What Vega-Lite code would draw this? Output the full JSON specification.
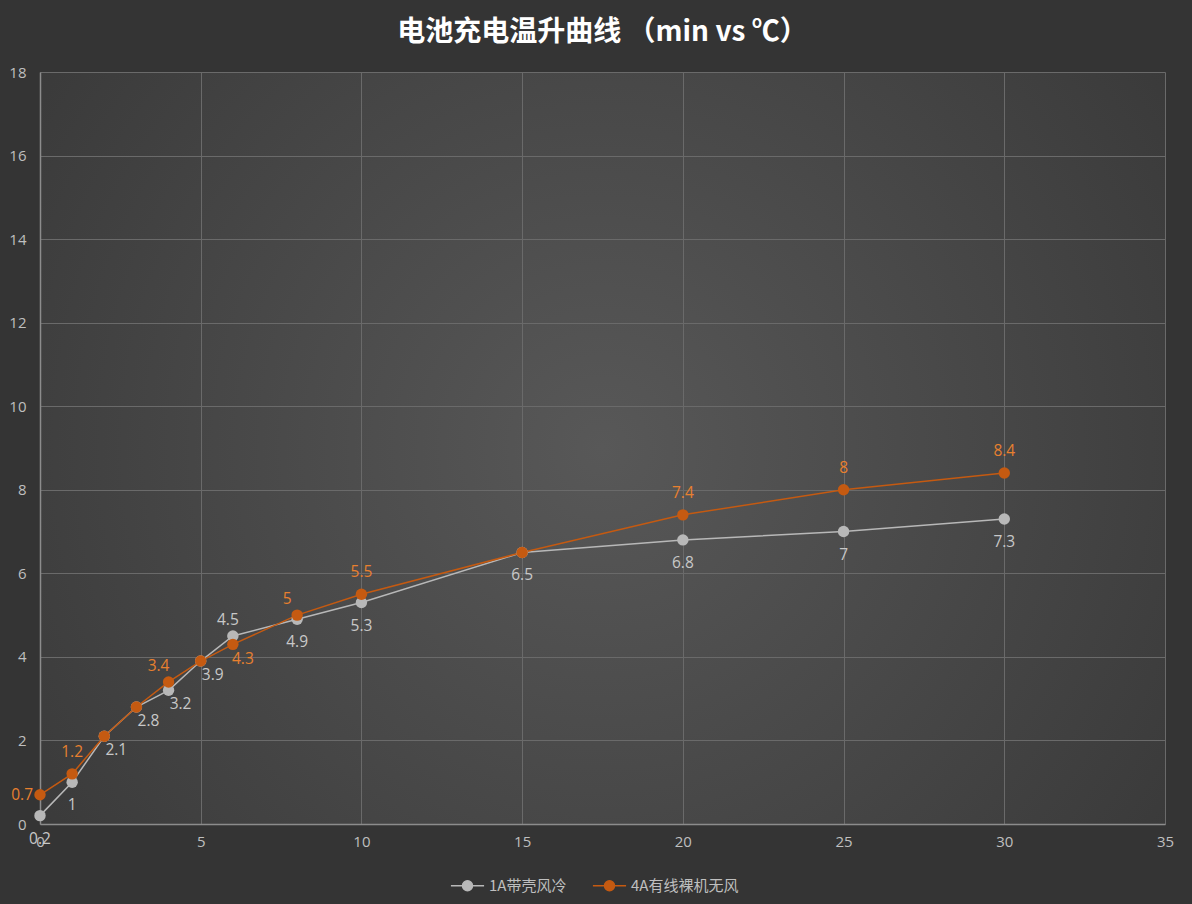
{
  "$schema": "https://vega.github.io/schema/vega-lite/v6.json",
  "width": 1125,
  "height": 752,
  "autosize": {"type": "none"},
  "padding": {"left": 40, "top": 72, "right": 27, "bottom": 80},
  "background": "#343434",
  "title": {
    "text": "电池充电温升曲线 （min vs ℃）",
    "font": "Noto Sans CJK SC",
    "fontSize": 28,
    "fontWeight": "bold",
    "color": "#ffffff",
    "offset": 18,
    "anchor": "middle"
  },
  "config": {
    "view": {
      "stroke": null,
      "fill": {
        "gradient": "radial",
        "x1": 0.5, "y1": 0.5, "r1": 0,
        "x2": 0.5, "y2": 0.5, "r2": 0.75,
        "stops": [
          {"offset": 0, "color": "#585858"},
          {"offset": 1, "color": "#333333"}
        ]
      }
    },
    "axis": {
      "labelFont": "Open Sans",
      "labelFontSize": 15,
      "labelColor": "#bfbfbf",
      "labelFlush": false,
      "gridColor": "#6a6a6a",
      "gridWidth": 1,
      "domainColor": "#8c8c8c",
      "domainWidth": 1.5,
      "ticks": false,
      "title": null
    },
    "text": {"font": "Open Sans", "fontSize": 15.5}
  },
  "data": {
    "values": [
      {"t": 0, "v": 0.2, "s": "1A带壳风冷"},
      {"t": 1, "v": 1, "s": "1A带壳风冷"},
      {"t": 2, "v": 2.1, "s": "1A带壳风冷"},
      {"t": 3, "v": 2.8, "s": "1A带壳风冷"},
      {"t": 4, "v": 3.2, "s": "1A带壳风冷"},
      {"t": 5, "v": 3.9, "s": "1A带壳风冷"},
      {"t": 6, "v": 4.5, "s": "1A带壳风冷"},
      {"t": 8, "v": 4.9, "s": "1A带壳风冷"},
      {"t": 10, "v": 5.3, "s": "1A带壳风冷"},
      {"t": 15, "v": 6.5, "s": "1A带壳风冷"},
      {"t": 20, "v": 6.8, "s": "1A带壳风冷"},
      {"t": 25, "v": 7, "s": "1A带壳风冷"},
      {"t": 30, "v": 7.3, "s": "1A带壳风冷"},
      {"t": 0, "v": 0.7, "s": "4A有线裸机无风"},
      {"t": 1, "v": 1.2, "s": "4A有线裸机无风"},
      {"t": 2, "v": 2.1, "s": "4A有线裸机无风"},
      {"t": 3, "v": 2.8, "s": "4A有线裸机无风"},
      {"t": 4, "v": 3.4, "s": "4A有线裸机无风"},
      {"t": 5, "v": 3.9, "s": "4A有线裸机无风"},
      {"t": 6, "v": 4.3, "s": "4A有线裸机无风"},
      {"t": 8, "v": 5, "s": "4A有线裸机无风"},
      {"t": 10, "v": 5.5, "s": "4A有线裸机无风"},
      {"t": 15, "v": 6.5, "s": "4A有线裸机无风"},
      {"t": 20, "v": 7.4, "s": "4A有线裸机无风"},
      {"t": 25, "v": 8, "s": "4A有线裸机无风"},
      {"t": 30, "v": 8.4, "s": "4A有线裸机无风"}
    ]
  },
  "encoding": {
    "x": {
      "field": "t", "type": "quantitative",
      "scale": {"domain": [0, 35], "nice": false},
      "axis": {"values": [0, 5, 10, 15, 20, 25, 30, 35], "labelPadding": 10}
    },
    "y": {
      "field": "v", "type": "quantitative",
      "scale": {"domain": [0, 18], "nice": false},
      "axis": {"values": [0, 2, 4, 6, 8, 10, 12, 14, 16, 18], "labelPadding": 14}
    }
  },
  "layer": [
    {
      "mark": {"type": "line", "strokeWidth": 1.5},
      "encoding": {
        "color": {
          "field": "s", "type": "nominal",
          "scale": {"domain": ["1A带壳风冷", "4A有线裸机无风"], "range": ["#b8b8b8", "#c55a11"]},
          "legend": {
            "orient": "none",
            "legendX": 410,
            "legendY": 796,
            "direction": "horizontal",
            "title": null,
            "labelFont": "Noto Sans CJK SC",
            "labelFontSize": 15,
            "labelColor": "#bfbfbf",
            "labelOffset": 4,
            "symbolType": "M-1,0H1M-0.3,0A0.3,0.3 0 1,1 0.3,0A0.3,0.3 0 1,1 -0.3,0Z",
            "symbolSize": 1100,
            "symbolStrokeWidth": 1.5,
            "columnPadding": 22,
            "encode": {
              "symbols": {
                "update": {
                  "fill": {"scale": "color", "field": "value"},
                  "stroke": {"scale": "color", "field": "value"}
                }
              }
            }
          }
        }
      }
    },
    {
      "mark": {"type": "circle", "size": 130, "opacity": 1},
      "encoding": {
        "color": {"field": "s", "type": "nominal"}
      }
    },
    {
      "transform": [{"filter": "datum.s == '1A带壳风冷' && (datum.t <= 1 || datum.t >= 8)"}],
      "mark": {"type": "text", "dy": 23, "color": "#c8c8c8"},
      "encoding": {"text": {"field": "v", "type": "quantitative"}}
    },
    {
      "transform": [{"filter": "datum.s == '1A带壳风冷' && datum.t >= 2 && datum.t <= 5"}],
      "mark": {"type": "text", "dy": 14, "dx": 12, "color": "#c8c8c8"},
      "encoding": {"text": {"field": "v", "type": "quantitative"}}
    },
    {
      "transform": [{"filter": "datum.s == '1A带壳风冷' && datum.t == 6"}],
      "mark": {"type": "text", "dy": -16, "dx": -5, "color": "#c8c8c8"},
      "encoding": {"text": {"field": "v", "type": "quantitative"}}
    },
    {
      "transform": [{"filter": "datum.s == '4A有线裸机无风' && datum.t == 0"}],
      "mark": {"type": "text", "align": "right", "dx": -7, "color": "#e8802f"},
      "encoding": {"text": {"field": "v", "type": "quantitative"}}
    },
    {
      "transform": [{"filter": "datum.s == '4A有线裸机无风' && (datum.t == 1 || datum.t >= 10) && datum.t != 15"}],
      "mark": {"type": "text", "dy": -22, "color": "#e8802f"},
      "encoding": {"text": {"field": "v", "type": "quantitative"}}
    },
    {
      "transform": [{"filter": "datum.s == '4A有线裸机无风' && (datum.t == 4 || datum.t == 8)"}],
      "mark": {"type": "text", "dy": -16, "dx": -10, "color": "#e8802f"},
      "encoding": {"text": {"field": "v", "type": "quantitative"}}
    },
    {
      "transform": [{"filter": "datum.s == '4A有线裸机无风' && datum.t == 6"}],
      "mark": {"type": "text", "dy": 15, "dx": 10, "color": "#e8802f"},
      "encoding": {"text": {"field": "v", "type": "quantitative"}}
    }
  ]
}
